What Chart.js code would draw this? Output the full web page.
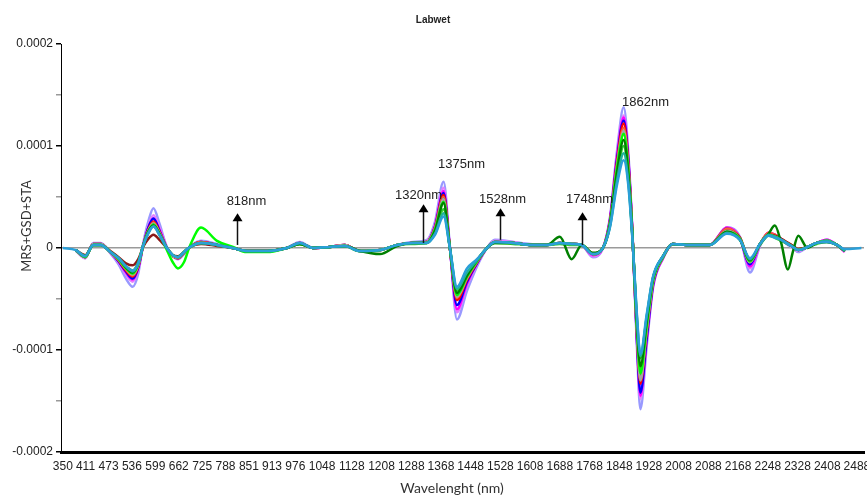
<!DOCTYPE html>
<html>
<head>
<meta charset="utf-8">
<title>Labwet</title>
<script src="https://cdn.jsdelivr.net/npm/chart.js@4.4.1/dist/chart.umd.min.js"></script>
<style>
  body { margin: 0; background: #fff; }
</style>
</head>
<body>
<canvas id="graficoEspectro" width="867" height="496"></canvas>
<script>
// longitudes de onda (nm) comunes a todas las curvas
const wavelengths = [350, 385, 410, 432, 452, 478, 500, 520, 538, 553,
  566, 580, 594, 610, 630, 646, 660, 676, 692, 722,
  765, 808, 845, 900, 953, 988, 1023, 1069, 1109, 1150,
  1204, 1250, 1292, 1330, 1352, 1375, 1392, 1411, 1438, 1465,
  1492, 1513, 1562, 1607, 1653, 1688, 1720, 1747, 1777, 1804,
  1823, 1842, 1860, 1872, 1884, 1895, 1905, 1922, 1939, 1966,
  1992, 2038, 2092, 2138, 2173, 2200, 2227, 2250, 2267, 2284,
  2302, 2316, 2330, 2355, 2380, 2407, 2434, 2455, 2500];

// etiquetas del eje X
const ticksX = [350, 411, 473, 536, 599, 662, 725, 788, 851, 913, 976, 1048, 1128, 1208, 1288,
  1368, 1448, 1528, 1608, 1688, 1768, 1848, 1928, 2008, 2088, 2168, 2248, 2328, 2408, 2488];

const ticksY = [-0.0002, -0.00015, -0.0001, -0.00005, 0, 0.00005, 0.0001, 0.00015, 0.0002];

// valores en unidades de 1e-5
const UNIDAD = 1e-5;

const muestra01 = [null, -0.3, -1.0, 0.5, 0.5, -0.5, -1.6, -3.0, -3.8, -2.5,
  0.4, 2.6, 3.9, 2.4, 0.1, -0.8, -1.1, -0.6, 0.1, 0.7,
  0.4, 0.0, -0.3, -0.3, 0.0, 0.6, 0.0, 0.1, 0.3, -0.3,
  -0.2, 0.3, 0.6, 0.8, 2.6, 6.5, 0.2, -7.0, -4.2, -1.8,
  0.0, 0.8, 0.6, 0.4, 0.3, 0.5, 0.4, 0.3, -0.9, 0.0,
  3.0, 9.5, 13.8, 9.6, 1.2, -9.2, -15.8, -9.6, -3.9, -1.0,
  0.4, 0.3, 0.3, 2.0, 1.1, -2.4, 0.2, 1.5, 1.3, 0.9,
  0.3, 0.0, -0.4, 0.1, 0.5, 0.8, 0.3, -0.3, null];

const muestra02 = [null, -0.2, -1.0, 0.4, 0.4, -0.5, -1.4, -2.6, -3.3, -2.1,
  0.3, 2.2, 3.2, 2.0, 0.1, -0.8, -1.0, -0.5, 0.1, 0.6,
  0.3, 0.0, -0.3, -0.3, 0.0, 0.5, 0.0, 0.1, 0.3, -0.3,
  -0.2, 0.3, 0.5, 0.7, 2.3, 5.9, 0.1, -6.3, -3.7, -1.6,
  0.0, 0.7, 0.6, 0.3, 0.3, 0.5, 0.4, 0.3, -0.8, 0.0,
  2.9, 9.2, 13.0, 9.2, 1.1, -8.7, -14.8, -9.2, -3.8, -1.0,
  0.4, 0.3, 0.3, 2.0, 1.0, -2.0, 0.3, 1.5, 1.3, 0.9,
  0.4, 0.0, -0.3, 0.1, 0.5, 0.8, 0.3, -0.3, null];

const muestra03 = [null, -0.2, -0.9, 0.4, 0.4, -0.4, -1.3, -2.4, -3.1, -2.0,
  0.2, 2.0, 2.9, 1.8, 0.0, -0.8, -1.0, -0.5, 0.1, 0.6,
  0.3, 0.0, -0.3, -0.3, 0.0, 0.5, 0.0, 0.1, 0.3, -0.3,
  -0.2, 0.3, 0.5, 0.6, 2.2, 5.6, 0.0, -6.0, -3.5, -1.5,
  0.0, 0.6, 0.5, 0.3, 0.3, 0.5, 0.4, 0.3, -0.7, 0.0,
  2.8, 9.0, 12.8, 9.0, 1.0, -8.5, -14.5, -9.0, -3.7, -1.0,
  0.4, 0.3, 0.3, 2.0, 1.0, -1.8, 0.3, 1.5, 1.3, 0.9,
  0.4, 0.1, -0.2, 0.1, 0.5, 0.8, 0.3, -0.4, null];

const muestra04 = [null, -0.2, -0.9, 0.4, 0.4, -0.4, -1.3, -2.3, -3.0, -1.9,
  0.2, 2.0, 2.9, 1.7, 0.0, -0.8, -1.0, -0.5, 0.1, 0.6,
  0.3, 0.0, -0.3, -0.3, 0.0, 0.5, 0.0, 0.1, 0.3, -0.3,
  -0.2, 0.3, 0.5, 0.6, 2.1, 5.4, 0.0, -5.6, -3.3, -1.5,
  0.0, 0.6, 0.5, 0.3, 0.3, 0.5, 0.4, 0.3, -0.6, 0.0,
  2.7, 8.7, 12.5, 8.8, 1.0, -8.4, -14.2, -8.8, -3.6, -0.9,
  0.4, 0.3, 0.3, 1.9, 0.9, -1.6, 0.4, 1.4, 1.2, 0.8,
  0.4, 0.1, -0.2, 0.1, 0.5, 0.7, 0.3, -0.3, null];

const muestra05 = [null, -0.2, -0.9, 0.4, 0.4, -0.4, -1.2, -2.2, -2.8, -1.8,
  0.2, 1.8, 2.6, 1.6, 0.0, -0.8, -1.0, -0.5, 0.1, 0.6,
  0.3, 0.0, -0.3, -0.3, 0.0, 0.5, 0.0, 0.1, 0.3, -0.3,
  -0.2, 0.3, 0.5, 0.6, 2.0, 5.2, 0.0, -5.1, -3.1, -1.4,
  0.0, 0.6, 0.5, 0.3, 0.3, 0.5, 0.4, 0.3, -0.6, 0.0,
  2.6, 8.4, 12.2, 8.5, 1.0, -8.0, -13.3, -8.2, -3.4, -0.9,
  0.4, 0.3, 0.3, 1.8, 0.9, -1.4, 0.4, 1.4, 1.2, 0.8,
  0.4, 0.1, -0.2, 0.1, 0.5, 0.7, 0.3, -0.3, null];

const muestra06 = [null, -0.2, -0.9, 0.4, 0.4, -0.4, -1.2, -2.1, -2.7, -1.7,
  0.2, 1.7, 2.5, 1.5, 0.0, -0.8, -1.0, -0.5, 0.1, 0.6,
  0.3, 0.0, -0.3, -0.3, 0.0, 0.5, 0.0, 0.1, 0.3, -0.3,
  -0.2, 0.3, 0.5, 0.6, 2.0, 5.0, 0.0, -4.9, -3.0, -1.4,
  0.0, 0.6, 0.5, 0.3, 0.3, 0.5, 0.4, 0.3, -0.6, 0.0,
  2.5, 8.2, 11.8, 8.2, 1.0, -7.8, -12.9, -8.0, -3.3, -0.9,
  0.4, 0.3, 0.3, 1.9, 1.0, -1.3, 0.4, 1.5, 1.3, 0.9,
  0.5, 0.2, -0.1, 0.1, 0.5, 0.7, 0.3, -0.3, null];

const muestra07 = [null, -0.2, -0.7, 0.3, 0.3, -0.3, -0.9, -1.5, -1.7, -1.1,
  0.1, 0.9, 1.3, 0.8, 0.0, -0.7, -0.8, -0.4, 0.1, 0.4,
  0.2, 0.0, -0.3, -0.3, 0.0, 0.4, 0.0, 0.1, 0.2, -0.3,
  -0.2, 0.3, 0.5, 0.6, 1.9, 4.8, 0.0, -4.6, -2.8, -1.3,
  0.0, 0.6, 0.5, 0.3, 0.3, 0.5, 0.4, 0.3, -0.5, 0.0,
  2.4, 7.8, 11.2, 7.8, 0.9, -7.4, -12.4, -7.6, -3.1, -0.8,
  0.4, 0.3, 0.3, 1.7, 1.0, -1.2, 0.4, 1.3, 1.2, 0.9,
  0.5, 0.2, -0.1, 0.1, 0.5, 0.7, 0.3, -0.3, null];

const muestra08 = [null, -0.2, -0.9, 0.4, 0.4, -0.4, -1.1, -2.0, -2.6, -1.7,
  0.2, 1.7, 2.4, 1.5, 0.0, -0.8, -0.9, -0.5, 0.1, 0.5,
  0.3, 0.0, -0.3, -0.3, 0.0, 0.5, 0.0, 0.1, 0.3, -0.3,
  -0.2, 0.3, 0.5, 0.6, 1.9, 4.8, 0.0, -4.8, -2.9, -1.3,
  0.0, 0.6, 0.5, 0.3, 0.3, 0.5, 0.4, 0.3, -0.6, 0.0,
  2.5, 8.0, 11.5, 8.0, 0.9, -7.9, -13.0, -8.0, -3.3, -0.9,
  0.4, 0.3, 0.3, 1.7, 0.9, -1.4, 0.4, 1.3, 1.1, 0.8,
  0.4, 0.1, -0.2, 0.1, 0.5, 0.7, 0.3, -0.3, null];

const muestra09 = [null, -0.2, -0.9, 0.3, 0.3, -0.4, -1.1, -2.0, -2.5, -1.6,
  0.2, 1.6, 2.3, 1.4, -0.2, -1.4, -2.0, -1.4, 0.2, 2.0,
  0.7, 0.1, -0.4, -0.4, 0.0, 0.4, 0.0, 0.1, 0.2, -0.3,
  -0.2, 0.3, 0.5, 0.5, 1.8, 4.5, 0.0, -4.6, -2.8, -1.3,
  0.0, 0.6, 0.5, 0.3, 0.3, 0.5, 0.4, 0.3, -0.6, 0.0,
  2.4, 7.8, 11.2, 7.8, 0.9, -7.4, -12.3, -7.6, -3.2, -0.9,
  0.4, 0.3, 0.3, 1.6, 0.9, -1.3, 0.4, 1.3, 1.1, 0.8,
  0.4, 0.1, -0.2, 0.1, 0.5, 0.7, 0.3, -0.3, null];

const muestra10 = [null, -0.2, -0.8, 0.3, 0.3, -0.4, -1.0, -1.8, -2.2, -1.4,
  0.2, 1.5, 2.2, 1.3, 0.0, -0.7, -0.9, -0.4, 0.1, 0.5,
  0.3, 0.0, -0.3, -0.3, 0.0, 0.4, 0.0, 0.1, 0.2, -0.3,
  -0.2, 0.3, 0.4, 0.5, 1.5, 3.8, 0.0, -4.2, -2.6, -1.2,
  0.0, 0.5, 0.4, 0.3, 0.3, 0.4, 0.3, 0.3, -0.5, 0.0,
  2.2, 7.0, 10.0, 7.0, 0.8, -6.6, -10.8, -6.8, -2.9, -0.8,
  0.4, 0.3, 0.3, 1.5, 0.8, -1.2, 0.3, 1.2, 1.0, 0.7,
  0.4, 0.1, -0.2, 0.1, 0.4, 0.6, 0.3, -0.3, null];

const muestra11 = [null, -0.2, -0.8, 0.3, 0.3, -0.4, -1.0, -1.9, -2.4, -1.5,
  0.2, 1.6, 2.2, 1.4, 0.0, -0.7, -0.9, -0.4, 0.1, 0.5,
  0.3, 0.0, -0.3, -0.3, 0.0, 0.4, 0.0, 0.1, 0.2, -0.3,
  -0.6, 0.2, 0.5, 0.5, 1.7, 4.4, 0.0, -4.4, -2.7, -1.2,
  0.0, 0.5, 0.5, 0.3, 0.3, 1.1, -1.1, 0.3, -0.5, 0.0,
  2.3, 7.4, 10.6, 7.4, 0.8, -7.0, -11.6, -7.2, -3.0, -0.8,
  0.4, 0.3, 0.3, 1.6, 0.8, -1.2, 0.4, 1.4, 2.2, 0.5,
  -2.1, -0.3, 1.2, 0.0, 0.5, 0.6, 0.3, -0.3, null];

const muestra12 = [null, -0.2, -0.8, 0.3, 0.3, -0.4, -1.0, -1.8, -2.3, -1.5,
  0.2, 1.5, 2.1, 1.3, 0.0, -0.7, -0.9, -0.4, 0.1, 0.5,
  0.3, 0.0, -0.3, -0.3, 0.0, 0.5, 0.0, 0.1, 0.2, -0.3,
  -0.2, 0.3, 0.5, 0.5, 1.4, 3.4, 0.0, -4.0, -2.4, -1.2,
  0.0, 0.6, 0.5, 0.3, 0.3, 0.5, 0.4, 0.3, -0.6, 0.0,
  2.1, 6.6, 9.3, 6.6, 0.7, -6.4, -10.6, -6.7, -2.9, -0.8,
  0.4, 0.3, 0.3, 1.5, 0.8, -1.1, 0.4, 1.3, 1.1, 0.8,
  0.4, 0.1, -0.2, 0.1, 0.5, 0.7, 0.3, -0.3, null];

const muestra13 = [0.0, -0.2, -0.8, 0.3, 0.3, -0.4, -1.0, -1.8, -2.2, -1.5,
  0.2, 1.4, 2.1, 1.3, 0.0, -0.7, -0.9, -0.4, 0.1, 0.5,
  0.3, 0.0, -0.3, -0.3, 0.0, 0.5, 0.0, 0.1, 0.2, -0.3,
  -0.2, 0.3, 0.5, 0.5, 1.3, 3.1, 0.0, -3.8, -2.0, -1.1,
  0.0, 0.6, 0.5, 0.3, 0.3, 0.5, 0.4, 0.3, -0.6, 0.0,
  2.0, 6.2, 8.6, 6.3, 0.6, -6.2, -10.4, -6.5, -2.8, -0.8,
  0.4, 0.3, 0.3, 1.4, 0.8, -1.0, 0.4, 1.2, 1.0, 0.8,
  0.4, 0.1, -0.2, 0.1, 0.5, 0.6, 0.3, -0.1, 0.0];

// orden de dibujo: la primera queda al fondo, la ultima encima
const muestras = [muestra01, muestra02, muestra03, muestra04, muestra05, muestra06, muestra07,
  muestra08, muestra09, muestra10, muestra11, muestra12, muestra13];
const colores = ['#9999ff', '#e680ff', '#ff00ff', '#0000ff', '#ff0000', '#ff5a36', '#8b1a1a',
  '#a6a6a6', '#00ff00', '#33cc33', '#008000', '#1fb39a', '#2b9fd8'];

// flechas y textos de los picos (y en unidades de 1e-5)
const picos = [
  { texto: '818nm', nm: 818, flecha: true, base: 0.3, punta: 3.4, ty: 4.6, dx: 9 },
  { texto: '1320nm', nm: 1320, flecha: true, base: 0.5, punta: 4.3, ty: 5.2, dx: -5 },
  { texto: '1375nm', nm: 1375, flecha: false, ty: 8.2, dx: 17 },
  { texto: '1528nm', nm: 1528, flecha: true, base: 0.8, punta: 3.9, ty: 4.8, dx: 2 },
  { texto: '1748nm', nm: 1748, flecha: true, base: 0.3, punta: 3.5, ty: 4.8, dx: 7 },
  { texto: '1862nm', nm: 1862, flecha: false, ty: 14.3, dx: 21 }
];

const datasets = muestras.map((valores, i) => ({
  label: 'Muestra ' + (i + 1),
  data: valores.map((v, j) => ({ x: wavelengths[j], y: v === null ? null : v * UNIDAD })),
  borderColor: colores[i],
  borderWidth: 2.5,
  pointRadius: 0,
  fill: false,
  spanGaps: false,
  cubicInterpolationMode: 'monotone',
  // Chart.js pinta encima el order mas bajo
  order: muestras.length - i
}));

function esEtiquetaY(v) {
  const r = Math.round(v * 1e4);
  return Math.abs(v * 1e4 - r) < 1e-6;
}

const anotaciones = {
  id: 'anotaciones',
  afterDatasetsDraw(chart) {
    const { ctx } = chart;
    const x = chart.scales.x, y = chart.scales.y;
    ctx.save();
    ctx.font = '13px "Liberation Sans", Arial, sans-serif';
    ctx.textAlign = 'center';
    ctx.textBaseline = 'middle';
    picos.forEach(p => {
      const px = Math.round(x.getPixelForValue(p.nm)) + 0.5;
      if (p.flecha) {
        const yb = y.getPixelForValue(p.base * UNIDAD);
        const yp = y.getPixelForValue(p.punta * UNIDAD);
        ctx.strokeStyle = '#111';
        ctx.lineWidth = 1.5;
        ctx.beginPath();
        ctx.moveTo(px, yb);
        ctx.lineTo(px, yp + 6);
        ctx.stroke();
        ctx.fillStyle = '#000';
        ctx.beginPath();
        ctx.moveTo(px, yp);
        ctx.lineTo(px - 5, yp + 8);
        ctx.lineTo(px + 5, yp + 8);
        ctx.closePath();
        ctx.fill();
      }
      ctx.fillStyle = '#222';
      ctx.fillText(p.texto, px + p.dx, y.getPixelForValue(p.ty * UNIDAD));
    });
    ctx.restore();
  },
  afterDraw(chart) {
    const { ctx } = chart;
    ctx.save();
    ctx.textAlign = 'center';
    ctx.textBaseline = 'middle';
    ctx.fillStyle = '#222';
    ctx.font = 'bold 10px "Liberation Sans", Arial, sans-serif';
    ctx.fillText('Labwet', 433, 20);
    ctx.fillStyle = '#333';
    ctx.font = '14px Lato, sans-serif';
    ctx.fillText('Wavelenght (nm)', 452, 488);
    ctx.translate(27, 226);
    ctx.rotate(-Math.PI / 2);
    ctx.font = '13px Lato, sans-serif';
    ctx.fillText('MRS+GSD+STA', 0, 0);
    ctx.restore();
  }
};

const ctx = document.getElementById('graficoEspectro');

const graficoEspectro = new Chart(ctx, {
  type: 'line',
  data: { datasets: datasets },
  options: {
    responsive: false,
    animation: false,
    layout: { padding: { top: 44, right: 3, left: 0, bottom: 0 } },
    plugins: {
      legend: { display: false },
      tooltip: { enabled: false },
      title: { display: false }
    },
    scales: {
      x: {
        type: 'linear',
        min: 345,
        max: 2507,
        afterBuildTicks: s => { s.ticks = ticksX.map(v => ({ value: v })); },
        afterFit: s => { s.height = 44; s.paddingLeft = 0; s.paddingRight = 0; },
        ticks: {
          autoSkip: false,
          maxRotation: 0,
          minRotation: 0,
          padding: 7,
          color: '#222',
          font: { family: '"Liberation Sans", Arial, sans-serif', size: 12 },
          callback: v => String(v)
        },
        grid: { display: false, drawTicks: false },
        border: { display: true, color: '#000', width: 3 }
      },
      y: {
        min: -0.0002,
        max: 0.0002,
        afterBuildTicks: s => { s.ticks = ticksY.map(v => ({ value: v })); },
        afterFit: s => { s.width = 61; },
        ticks: {
          padding: 3,
          color: '#222',
          font: { family: '"Liberation Sans", Arial, sans-serif', size: 12 },
          callback: v => {
            if (!esEtiquetaY(v)) return '';
            return v === 0 ? '0' : v.toFixed(4);
          }
        },
        grid: {
          color: c => c.tick && c.tick.value === 0 ? '#9a9a9a' : 'rgba(0,0,0,0)',
          lineWidth: 1.5,
          tickColor: c => c.tick && esEtiquetaY(c.tick.value) ? '#000' : '#999',
          tickLength: 5,
          drawTicks: true
        },
        border: { display: true, color: '#000', width: 1 }
      }
    }
  },
  plugins: [anotaciones]
});
</script>
</body>
</html>
